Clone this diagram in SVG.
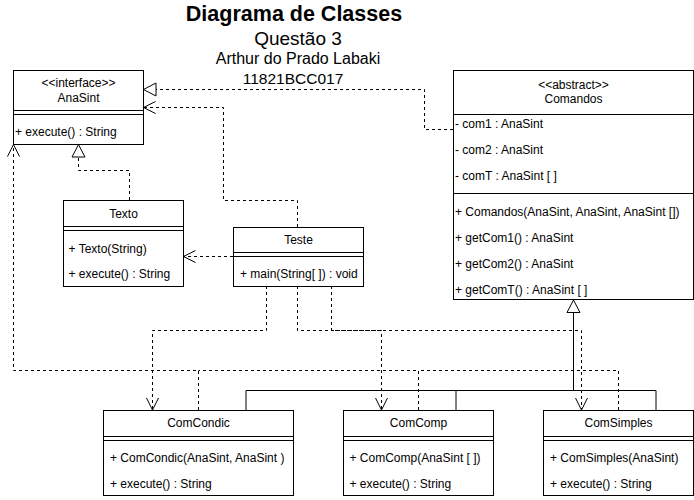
<svg xmlns="http://www.w3.org/2000/svg" width="694" height="500" viewBox="0 0 694 500">
<style>
.box{fill:#fff;stroke:#000;stroke-width:1}
.ln{stroke:#000;stroke-width:1;fill:none}
.dash{stroke:#000;stroke-width:1;fill:none;stroke-dasharray:3 3}
text{font-family:"Liberation Sans",Arial,Helvetica,sans-serif;font-size:12px;fill:#000}
.c{text-anchor:middle}
.t{font-size:21.5px;font-weight:bold}
</style>
<defs>
<marker id="open" markerUnits="userSpaceOnUse" markerWidth="20" markerHeight="20" viewBox="-15 -10 20 20" refX="0" refY="0" orient="auto" overflow="visible"><path d="M-12,-6 L0,0 L-12,6" fill="none" stroke="#000" stroke-width="1" stroke-dasharray="none"/></marker>
<marker id="tri" markerUnits="userSpaceOnUse" markerWidth="20" markerHeight="20" viewBox="-15 -10 20 20" refX="0" refY="0" orient="auto" overflow="visible"><path d="M-12.5,-6.5 L0,0 L-12.5,6.5 Z" fill="#fff" stroke="#000" stroke-width="1" stroke-dasharray="none"/></marker>
</defs>
<rect width="694" height="500" fill="#fff"/>
<g id="title">
<text class="c t" x="294" y="21">Diagrama de Classes</text>
<text class="c" x="298" y="45" style="font-size:19px">Questão 3</text>
<text class="c" x="298" y="64" style="font-size:16px">Arthur do Prado Labaki</text>
<text class="c" x="293" y="84" style="font-size:15.5px">11821BCC017</text>
</g>
<g id="connectors">
<path class="dash" d="M453,129.5 H424.5 V89.5 H143.5" marker-end="url(#tri)"/>
<path class="dash" d="M297.5,227 V200.5 H223.5 V107.5 H143.5" marker-end="url(#open)"/>
<path class="dash" d="M129.5,200 V170.5 H78.5 V144.5" marker-end="url(#tri)"/>
<path class="dash" d="M233,256.5 H183.5" marker-end="url(#open)"/>
<path class="dash" d="M266.5,286 V330.5 H152.5 V410" marker-end="url(#open)"/>
<path class="dash" d="M297.5,286 V330.5 H381.5 V410" marker-end="url(#open)"/>
<path class="dash" d="M331.5,286 V330.5 H581.5 V410" marker-end="url(#open)"/>
<path class="dash" d="M198.5,410 V370.5 H13.5 V144.5" marker-end="url(#open)"/>
<path class="dash" d="M418.5,410 V370.5 H198.5"/>
<path class="dash" d="M618.5,410 V370.5 H418.5"/>
<path class="ln" d="M246,410 V390.5 H656 V410 M456,390.5 V410"/>
<path class="ln" d="M573.5,390.5 V300" marker-end="url(#tri)"/>
</g>
<g id="AnaSint">
<rect class="box" x="13.5" y="70.5" width="130" height="74"/>
<path class="ln" d="M13.5,110.5 H143.5 M13.5,114.5 H143.5"/>
<text class="c" x="78.5" y="87">&lt;&lt;interface&gt;&gt;</text>
<text class="c" x="78.5" y="102">AnaSint</text>
<text x="15" y="136">+ execute() : String</text>
</g>
<g id="Comandos">
<rect class="box" x="453.5" y="70.5" width="240" height="229"/>
<path class="ln" d="M453.5,114.5 H693.5 M453.5,193.5 H693.5"/>
<text class="c" x="573.5" y="89">&lt;&lt;abstract&gt;&gt;</text>
<text class="c" x="573.5" y="102.5">Comandos</text>
<text x="455" y="127.5">- com1 : AnaSint</text>
<text x="455" y="153.5">- com2 : AnaSint</text>
<text x="455" y="180">- comT : AnaSint [ ]</text>
<text x="455" y="216">+ Comandos(AnaSint, AnaSint, AnaSint [])</text>
<text x="455" y="242">+ getCom1() : AnaSint</text>
<text x="455" y="268">+ getCom2() : AnaSint</text>
<text x="455" y="294">+ getComT() : AnaSint [ ]</text>
</g>
<g id="Texto">
<rect class="box" x="63.5" y="200.5" width="120" height="86"/>
<path class="ln" d="M63.5,226.5 H183.5 M63.5,230.5 H183.5"/>
<text class="c" x="123.5" y="218">Texto</text>
<text x="68.5" y="252.5">+ Texto(String)</text>
<text x="68.5" y="278">+ execute() : String</text>
</g>
<g id="Teste">
<rect class="box" x="233.5" y="227.5" width="130" height="59"/>
<path class="ln" d="M233.5,252.5 H363.5 M233.5,256.5 H363.5"/>
<text class="c" x="298.5" y="243.5">Teste</text>
<text x="240" y="278">+ main(String[ ]) : void</text>
</g>
<g id="ComCondic">
<rect class="box" x="103.5" y="410.5" width="190" height="85"/>
<path class="ln" d="M103.5,436.5 H293.5 M103.5,440.5 H293.5"/>
<text class="c" x="198.5" y="427">ComCondic</text>
<text x="110" y="461.5">+ ComCondic(AnaSint, AnaSint )</text>
<text x="110" y="488">+ execute() : String</text>
</g>
<g id="ComComp">
<rect class="box" x="343.5" y="410.5" width="150" height="85"/>
<path class="ln" d="M343.5,436.5 H493.5 M343.5,440.5 H493.5"/>
<text class="c" x="418.5" y="427">ComComp</text>
<text x="349.5" y="461.5">+ ComComp(AnaSint [ ])</text>
<text x="349.5" y="488">+ execute() : String</text>
</g>
<g id="ComSimples">
<rect class="box" x="543.5" y="410.5" width="150" height="85"/>
<path class="ln" d="M543.5,436.5 H693.5 M543.5,440.5 H693.5"/>
<text class="c" x="618.5" y="427">ComSimples</text>
<text x="550" y="461.5">+ ComSimples(AnaSint)</text>
<text x="550" y="488">+ execute() : String</text>
</g>
</svg>
